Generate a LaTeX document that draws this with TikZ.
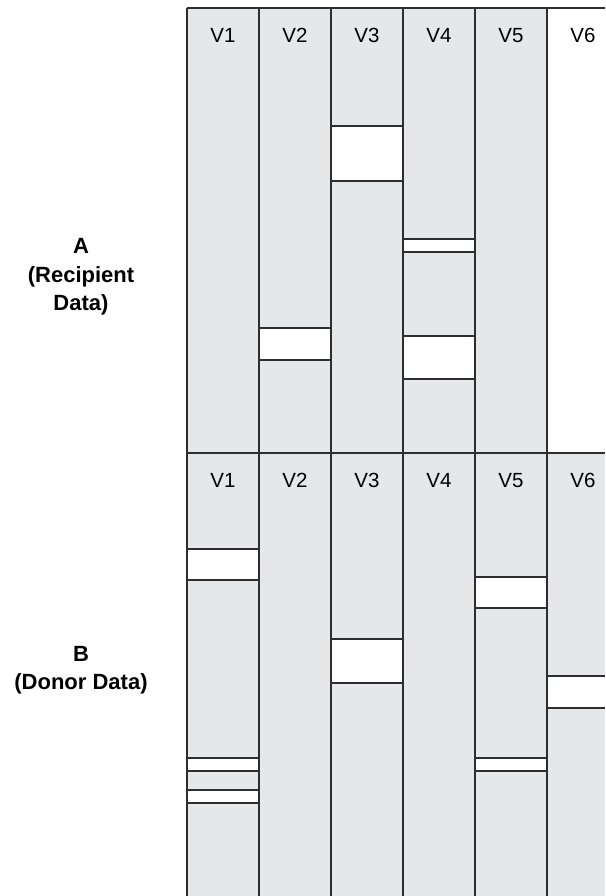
\documentclass[tikz,border=0pt]{standalone}
\usepackage{fontspec}
\setmainfont{Liberation Sans}
\begin{document}
\begin{tikzpicture}[x=1pt,y=-1pt,
  gap/.style={fill=white,draw=gridline,line width=1.4pt},
  grid/.style={draw=gridline,line width=1.6pt},
  vlabel/.style={anchor=base,font=\fontsize{20.5}{21}\selectfont,text=black,inner sep=0pt},
  panellabel/.style={align=center,font=\fontsize{22}{28.5}\selectfont\bfseries,text=black,inner sep=0pt}]
\definecolor{cellgray}{HTML}{E6E7E9}
\definecolor{gridline}{HTML}{2E2E30}
\useasboundingbox (0,0) rectangle (605,896);
% grey column fills (panel A column V6 stays white)
\fill[cellgray] (187,8) rectangle (547,896);
\fill[cellgray] (547,453) rectangle (605,896);
% white gaps, panel A
\draw[gap] (331,126) rectangle (403,181);
\draw[gap] (259,328) rectangle (331,360);
\draw[gap] (403,239) rectangle (475,252);
\draw[gap] (403,336) rectangle (475,379);
% white gaps, panel B
\draw[gap] (187,549) rectangle (259,580);
\draw[gap] (187,758) rectangle (259,771);
\draw[gap] (187,790) rectangle (259,803);
\draw[gap] (331,639) rectangle (403,683);
\draw[gap] (475,577) rectangle (547,608);
\draw[gap] (475,758) rectangle (547,771);
% the V6 gap runs off the right edge, so only its top and bottom are ruled
\fill[white] (547,676) rectangle (605,708);
\draw[grid,line width=1.4pt] (547,676) -- (605,676) (547,708) -- (605,708);
% grid lines
\foreach \x in {187,259,331,403,475,547} \draw[grid] (\x,8) -- (\x,896);
\draw[grid] (187,8) -- (605,8);
\draw[grid] (187,453) -- (605,453);
% column headings
\foreach \i/\x in {1/223,2/295,3/367,4/439,5/511,6/583} {
  \node[vlabel] (ha\i) at (\x,43) {V\i};
  \node[vlabel] (hb\i) at (\x,487.5) {V\i};
}
% panel titles
\node[panellabel] (pa) at (81,277) {A\\(Recipient\\Data)};
\node[panellabel] (pb) at (81,670) {B\\(Donor Data)};
\end{tikzpicture}
\end{document}
